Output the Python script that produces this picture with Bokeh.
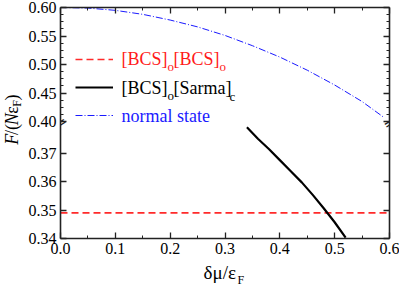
import math
from bokeh.plotting import figure
from bokeh.layouts import row, column
from bokeh.models import (Range1d, LinearAxis, FixedTicker, Label, Legend, LegendItem,
                          CustomLabelingPolicy)
from bokeh.embed import file_html
from bokeh.resources import INLINE

# ---------------- data ----------------
normal_x = [0.00, 0.05, 0.10, 0.15, 0.20, 0.25, 0.30, 0.35, 0.40, 0.45, 0.50, 0.55, 0.59]
normal_y = [0.600, 0.599, 0.595, 0.588, 0.578, 0.566, 0.551, 0.533, 0.513, 0.490, 0.464, 0.435, 0.407]

sarma_x = [0.34, 0.36, 0.38, 0.40, 0.42, 0.44, 0.46, 0.48, 0.50, 0.52]
sarma_y = [0.379, 0.375, 0.3714, 0.3675, 0.3636, 0.3597, 0.3553, 0.3506, 0.3457, 0.3403]

bcs_x = [0.0, 0.6]
bcs_y = [0.349, 0.349]

x_major = [0.0, 0.1, 0.2, 0.3, 0.4, 0.5, 0.6]
x_minor = [0.05, 0.15, 0.25, 0.35, 0.45, 0.55]
x_labels = ["0.0", "0.1", "0.2", "0.3", "0.4", "0.5", "0.6"]
y_lower_ticks = [0.34, 0.35, 0.36, 0.37]
y_lower_labels = ["0.34", "0.35", "0.36", "0.37"]
y_upper_ticks = [0.40, 0.45, 0.50, 0.55, 0.60]
y_upper_labels = ["0.40", "0.45", "0.50", "0.55", "0.60"]

# ---------------- broken y axis geometry ----------------
LOW0, LOW1 = 0.34, 0.38      # lower segment
UP0, UP1 = 0.40, 0.60        # upper segment
GAP = 3.0 / 114.0            # gap between the segments (fraction of one segment)
span = 2.0 + GAP
low_end = LOW0 + (LOW1 - LOW0) * span
up_start = UP1 - (UP1 - UP0) * span
ratio = (LOW1 - LOW0) / (UP1 - UP0)


def up_to_low(v):
    return LOW0 + (v - up_start) * ratio


SERIF = "Liberation Serif"
INK = "#222222"
YLAB_W = 25

p = figure(width=399 - YLAB_W, height=261, output_backend="svg", toolbar_location=None,
           x_range=Range1d(0.0, 0.6), y_range=Range1d(LOW0, low_end),
           min_border_left=60 - YLAB_W, min_border_right=10, min_border_top=7,
           min_border_bottom=23)
p.extra_y_ranges = {"upper": Range1d(up_start, UP1)}
p.grid.visible = False
p.outline_line_color = None

# tickers
y_major_pos = list(y_lower_ticks) + [up_to_low(v) for v in y_upper_ticks]
y_minor_pos = []
for a in y_upper_ticks[:-1]:
    for k in (1, 2, 3):
        y_minor_pos.append(up_to_low(a + 0.0125 * k))
y_ticker = FixedTicker(ticks=y_major_pos, minor_ticks=y_minor_pos)
x_ticker = FixedTicker(ticks=x_major, minor_ticks=x_minor)

y_over = {}
for t, s in zip(y_lower_ticks, y_lower_labels):
    y_over[t] = s
for t, s in zip(y_upper_ticks, y_upper_labels):
    y_over[up_to_low(t)] = s


def style(ax, labels=True):
    ax.axis_line_width = 1.6
    ax.axis_line_color = INK
    ax.major_tick_in = 6
    ax.major_tick_out = 0
    ax.minor_tick_in = 3
    ax.minor_tick_out = 0
    ax.major_tick_line_color = INK
    ax.minor_tick_line_color = INK
    ax.major_tick_line_width = 1.3
    ax.minor_tick_line_width = 1.0
    ax.major_label_text_font = SERIF
    ax.major_label_text_font_size = "16px"
    ax.major_label_text_color = "black"
    ax.major_label_standoff = 4
    if not labels:
        ax.major_label_policy = CustomLabelingPolicy(code="return []")
        ax.major_label_text_font_size = "1px"
        ax.major_label_standoff = 0
        ax.major_label_overrides = {t: "" for t in ax.ticker.ticks}


xb = p.xaxis[0]
xb.ticker = x_ticker
xb.major_label_overrides = dict(zip(x_major, x_labels))
style(xb)
yl = p.yaxis[0]
yl.ticker = y_ticker
yl.major_label_overrides = y_over
style(yl)

xt = LinearAxis(ticker=x_ticker)
style(xt, labels=False)
p.add_layout(xt, "above")
yr = LinearAxis(ticker=y_ticker)
style(yr, labels=False)
p.add_layout(yr, "right")

# ---------------- curves ----------------
r_bcs = p.line(bcs_x, bcs_y, line_color="#ff2a2a", line_width=1.6, line_dash="7 4")
r_sarma = p.line(sarma_x, sarma_y, line_color="black", line_width=2.2)
r_norm = p.line(normal_x, normal_y, line_color="#1a1aff", line_width=1.0,
                line_dash="7 2 1 2", y_range_name="upper")

# ---------------- legend (handles) ----------------
legend = Legend(items=[LegendItem(label=" ", renderers=[r_bcs]),
                       LegendItem(label=" ", renderers=[r_sarma]),
                       LegendItem(label=" ", renderers=[r_norm])],
                location=(15, 113), glyph_width=38, glyph_height=20, label_height=20,
                label_width=0, label_standoff=0, spacing=8, padding=0, margin=0,
                border_line_color=None, background_fill_alpha=0,
                label_text_font_size="1px")
p.add_layout(legend, "center")


def piece(fig, text, x, y, color, size="18px", style="normal", angle=0.0,
          dx=0, dy=0, font=SERIF, align="left"):
    fig.add_layout(Label(x=x, y=y, x_offset=dx, y_offset=dy, text=text,
                         text_font=font, text_font_size=size, text_font_style=style,
                         text_color=color, angle=angle, text_baseline="middle",
                         text_align=align))


# legend texts with subscripts (offsets in pixels from the frame's top-left)
SUB = "13px"
tx = 61
rows = [-51, -80, -108]
red = "#ff1a1a"
blue = "#1a1aff"
piece(p, "[BCS]", 0.0, low_end, red, dx=tx, dy=rows[0])
piece(p, "o", 0.0, low_end, red, SUB, dx=tx + 46, dy=rows[0] - 8)
piece(p, "[BCS]", 0.0, low_end, red, dx=tx + 52, dy=rows[0])
piece(p, "o", 0.0, low_end, red, SUB, dx=tx + 98, dy=rows[0] - 8)

piece(p, "[BCS]", 0.0, low_end, "black", dx=tx, dy=rows[1])
piece(p, "o", 0.0, low_end, "black", SUB, dx=tx + 46, dy=rows[1] - 8)
piece(p, "[Sarma]", 0.0, low_end, "black", dx=tx + 52, dy=rows[1])
piece(p, "c", 0.0, low_end, "black", SUB, dx=tx + 108, dy=rows[1] - 9)

piece(p, "normal state", 0.0, low_end, blue, dx=tx, dy=rows[2])

# axis-break marks
brk = LOW0 + (LOW1 - LOW0) * (1.0 + GAP / 2.0)
for bx in (0.0, 0.6):
    piece(p, "=", bx, brk, INK, "15px", angle=0.55, font="DejaVu Sans", align="center")

# ---------------- y title (own narrow panel) ----------------
ylab = figure(width=YLAB_W, height=261, output_backend="svg", toolbar_location=None,
              x_range=Range1d(0, YLAB_W), y_range=Range1d(0, 261),
              x_axis_type=None, y_axis_type=None, min_border=0)
ylab.grid.visible = False
ylab.outline_line_color = None
ang = math.pi / 2
xc = 11
yb = 261 - 155
piece(ylab, "F", xc, yb, "black", style="italic", angle=ang)
piece(ylab, "/(", xc, yb + 11, "black", angle=ang)
piece(ylab, "N", xc, yb + 22, "black", style="italic", angle=ang)
piece(ylab, "\u03b5", xc, yb + 35, "black", angle=ang)
piece(ylab, "F", xc + 5, yb + 43, "black", "12px", angle=ang)
piece(ylab, ")", xc, yb + 50, "black", angle=ang)

# ---------------- x title (own strip) ----------------
xlab = figure(width=399, height=24, output_backend="svg", toolbar_location=None,
              x_range=Range1d(0, 399), y_range=Range1d(0, 24),
              x_axis_type=None, y_axis_type=None, min_border=0)
xlab.grid.visible = False
xlab.outline_line_color = None
piece(xlab, "\u03b4\u03bc/\u03b5", 203, 13, "black", "19px")
piece(xlab, "F", 237, 6, "black", "12px")

layout = column(row(ylab, p), xlab)
open("out.html", "w").write(file_html(layout, INLINE))
